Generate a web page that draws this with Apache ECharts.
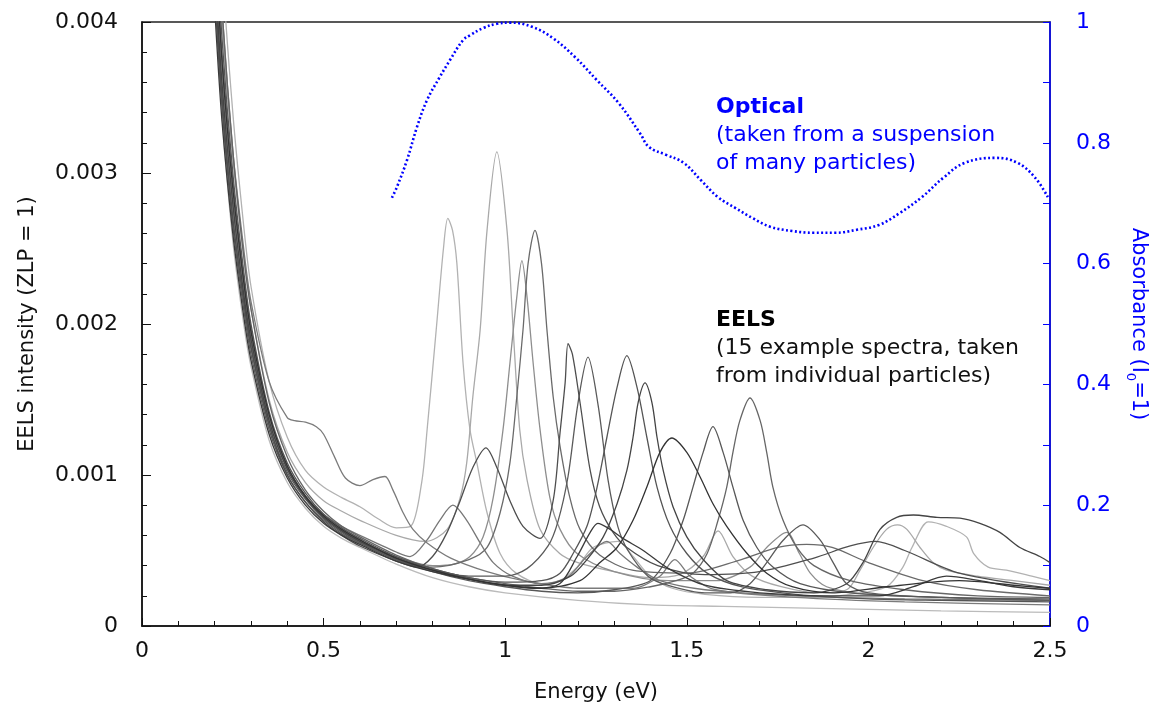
<!DOCTYPE html>
<html><head><meta charset="utf-8">
<script src="https://cdn.jsdelivr.net/npm/echarts@6/dist/echarts.min.js"></script>
<style>html,body{margin:0;padding:0;background:#fff}#c{width:1154px;height:713px}</style>
</head><body><div id="c"></div>
<script>
// Tick labels
const xTicks = [0, 0.5, 1, 1.5, 2, 2.5];
const xTickLabels = ['0', '0.5', '1', '1.5', '2', '2.5'];
const yLeftTickLabels = ['0', '0.001', '0.002', '0.003', '0.004'];
const yRightTickLabels = ['0', '0.2', '0.4', '0.6', '0.8', '1'];

// EELS spectra: [energy eV, intensity in units of 1e-3 (ZLP = 1)]
const eels01 = [[0.2,5.4],[0.22,4.4],[0.25,3.4],[0.28,2.65],[0.3,2.25],[0.35,1.62],[0.4,1.25],[0.45,1.03],[0.5,0.92],[0.55,0.85],[0.6,0.79],[0.65,0.71],[0.7,0.65],[0.74,0.66],[0.77,0.95],[0.785,1.3],[0.81,1.96],[0.83,2.5],[0.842,2.70],[0.855,2.62],[0.867,2.4],[0.884,1.74],[0.903,1.3],[0.922,1.08],[0.95,0.75],[0.986,0.48],[1.03,0.35],[1.1,0.28],[1.15,0.30],[1.198,0.39],[1.242,0.52],[1.31,0.56],[1.352,0.46],[1.399,0.33],[1.46,0.25],[1.55,0.21],[1.7,0.19],[1.85,0.19],[1.95,0.21],[2.05,0.26],[2.095,0.39],[2.12,0.52],[2.165,0.69],[2.215,0.66],[2.27,0.59],[2.29,0.48],[2.33,0.39],[2.38,0.37],[2.45,0.33],[2.5,0.30]];
const eels02 = [[0.2,4.9],[0.22,4.0],[0.25,3.1],[0.28,2.45],[0.3,2.1],[0.35,1.5],[0.4,1.15],[0.45,0.95],[0.5,0.83],[0.55,0.76],[0.6,0.70],[0.7,0.60],[0.78,0.56],[0.84,0.64],[0.876,0.85],[0.894,1.08],[0.911,1.52],[0.931,1.96],[0.95,2.62],[0.977,3.14],[1.005,2.62],[1.022,1.96],[1.04,1.3],[1.06,0.97],[1.096,0.64],[1.15,0.48],[1.2,0.42],[1.3,0.36],[1.4,0.32],[1.48,0.34],[1.545,0.46],[1.586,0.63],[1.627,0.46],[1.68,0.33],[1.76,0.26],[1.86,0.22],[1.94,0.24],[1.977,0.37],[2.013,0.52],[2.05,0.64],[2.08,0.67],[2.106,0.64],[2.142,0.52],[2.178,0.42],[2.215,0.37],[2.3,0.33],[2.4,0.3],[2.5,0.27]];
const eels03 = [[0.2,4.5],[0.22,3.7],[0.25,2.85],[0.28,2.25],[0.3,1.92],[0.35,1.38],[0.4,1.05],[0.45,0.86],[0.5,0.73],[0.55,0.64],[0.6,0.57],[0.7,0.46],[0.8,0.40],[0.86,0.41],[0.903,0.46],[0.939,0.59],[0.967,0.85],[0.994,1.30],[1.013,1.74],[1.032,2.18],[1.046,2.42],[1.06,2.18],[1.077,1.74],[1.096,1.30],[1.123,0.85],[1.151,0.64],[1.198,0.48],[1.3,0.36],[1.45,0.3],[1.58,0.3],[1.674,0.39],[1.72,0.52],[1.775,0.62],[1.81,0.48],[1.84,0.35],[1.885,0.26],[2.0,0.21],[2.2,0.19],[2.5,0.17]];
const eels04 = [[0.2,4.6],[0.22,3.8],[0.25,2.95],[0.28,2.3],[0.3,1.97],[0.35,1.4],[0.4,1.06],[0.45,0.86],[0.5,0.72],[0.55,0.63],[0.6,0.56],[0.7,0.45],[0.8,0.39],[0.9,0.44],[0.95,0.52],[0.986,0.75],[1.013,1.08],[1.032,1.52],[1.049,1.96],[1.063,2.4],[1.082,2.62],[1.1,2.4],[1.115,1.96],[1.132,1.52],[1.151,1.19],[1.178,0.85],[1.206,0.64],[1.26,0.47],[1.35,0.37],[1.5,0.35],[1.65,0.44],[1.75,0.52],[1.83,0.54],[1.9,0.52],[2.0,0.42],[2.15,0.3],[2.3,0.24],[2.5,0.2]];
const eels05 = [[0.2,4.3],[0.22,3.5],[0.25,2.7],[0.28,2.15],[0.3,1.85],[0.35,1.33],[0.4,1.0],[0.45,0.82],[0.5,0.69],[0.55,0.6],[0.6,0.53],[0.7,0.43],[0.757,0.39],[0.8,0.46],[0.84,0.62],[0.876,0.83],[0.911,1.05],[0.947,1.18],[0.977,1.05],[1.013,0.83],[1.049,0.66],[1.096,0.58],[1.132,0.83],[1.151,1.28],[1.165,1.61],[1.173,1.87],[1.185,1.80],[1.206,1.48],[1.234,1.03],[1.26,0.79],[1.297,0.62],[1.335,0.52],[1.42,0.4],[1.55,0.34],[1.7,0.36],[1.85,0.45],[1.95,0.53],[2.02,0.56],[2.1,0.5],[2.25,0.35],[2.5,0.25]];
const eels06 = [[0.2,4.2],[0.22,3.45],[0.25,2.65],[0.28,2.1],[0.3,1.8],[0.35,1.3],[0.4,1.0],[0.45,0.82],[0.5,0.7],[0.55,0.61],[0.6,0.55],[0.7,0.44],[0.8,0.37],[0.9,0.33],[1.0,0.33],[1.06,0.38],[1.118,0.53],[1.145,0.69],[1.173,0.99],[1.2,1.47],[1.228,1.78],[1.256,1.46],[1.283,0.97],[1.31,0.66],[1.338,0.5],[1.393,0.33],[1.448,0.27],[1.55,0.22],[1.62,0.22],[1.674,0.28],[1.72,0.42],[1.766,0.57],[1.82,0.67],[1.867,0.57],[1.903,0.42],[1.94,0.28],[2.0,0.22],[2.2,0.19],[2.5,0.17]];
const eels07 = [[0.2,4.8],[0.22,3.9],[0.25,3.0],[0.28,2.35],[0.3,2.0],[0.35,1.42],[0.4,1.08],[0.45,0.88],[0.5,0.74],[0.55,0.65],[0.6,0.58],[0.7,0.46],[0.8,0.38],[0.9,0.32],[1.0,0.29],[1.1,0.3],[1.151,0.35],[1.187,0.48],[1.225,0.66],[1.253,0.92],[1.28,1.25],[1.308,1.58],[1.335,1.79],[1.363,1.58],[1.39,1.25],[1.418,0.92],[1.454,0.66],[1.5,0.48],[1.556,0.35],[1.65,0.26],[1.8,0.21],[2.0,0.18],[2.2,0.17],[2.5,0.16]];
const eels08 = [[0.2,4.4],[0.22,3.6],[0.25,2.8],[0.28,2.2],[0.3,1.9],[0.35,1.36],[0.4,1.04],[0.45,0.85],[0.5,0.72],[0.55,0.63],[0.6,0.56],[0.7,0.45],[0.8,0.37],[0.9,0.31],[1.0,0.27],[1.1,0.27],[1.18,0.33],[1.225,0.44],[1.27,0.59],[1.308,0.81],[1.335,1.03],[1.352,1.25],[1.366,1.48],[1.385,1.61],[1.404,1.48],[1.418,1.25],[1.435,1.03],[1.462,0.79],[1.5,0.59],[1.545,0.44],[1.61,0.30],[1.72,0.24],[1.85,0.22],[1.94,0.28],[1.985,0.42],[2.032,0.64],[2.078,0.72],[2.124,0.735],[2.189,0.72],[2.252,0.715],[2.307,0.68],[2.362,0.62],[2.417,0.52],[2.472,0.46],[2.5,0.42]];
const eels09 = [[0.2,4.6],[0.22,3.75],[0.25,2.9],[0.28,2.28],[0.3,1.95],[0.35,1.4],[0.4,1.06],[0.45,0.86],[0.5,0.73],[0.55,0.64],[0.6,0.57],[0.7,0.45],[0.8,0.37],[0.9,0.31],[1.0,0.27],[1.1,0.25],[1.206,0.30],[1.261,0.42],[1.308,0.52],[1.352,0.70],[1.39,0.92],[1.426,1.15],[1.459,1.245],[1.5,1.15],[1.536,0.99],[1.572,0.81],[1.61,0.66],[1.666,0.48],[1.72,0.35],[1.79,0.26],[1.9,0.22],[2.05,0.26],[2.25,0.30],[2.4,0.27],[2.5,0.25]];
const eels10 = [[0.2,4.3],[0.22,3.5],[0.25,2.7],[0.28,2.15],[0.3,1.84],[0.35,1.33],[0.4,1.02],[0.45,0.84],[0.5,0.71],[0.55,0.62],[0.6,0.55],[0.7,0.44],[0.8,0.36],[0.9,0.3],[1.0,0.26],[1.1,0.23],[1.2,0.22],[1.3,0.24],[1.399,0.30],[1.454,0.48],[1.49,0.70],[1.517,0.92],[1.545,1.15],[1.572,1.32],[1.6,1.15],[1.627,0.92],[1.655,0.70],[1.693,0.52],[1.737,0.39],[1.812,0.28],[1.95,0.22],[2.2,0.19],[2.5,0.18]];
const eels11 = [[0.2,5.0],[0.22,4.1],[0.25,3.15],[0.28,2.45],[0.3,2.1],[0.35,1.48],[0.4,1.12],[0.45,0.9],[0.5,0.76],[0.55,0.66],[0.6,0.59],[0.7,0.47],[0.8,0.38],[0.9,0.32],[1.0,0.28],[1.1,0.25],[1.2,0.23],[1.3,0.23],[1.4,0.26],[1.47,0.3],[1.517,0.35],[1.556,0.48],[1.586,0.70],[1.61,0.92],[1.627,1.15],[1.646,1.36],[1.674,1.51],[1.702,1.36],[1.72,1.15],[1.737,0.92],[1.765,0.70],[1.803,0.52],[1.85,0.4],[1.95,0.3],[2.1,0.24],[2.3,0.2],[2.5,0.19]];
const eels12 = [[0.2,4.4],[0.22,3.6],[0.25,2.78],[0.28,2.2],[0.3,1.88],[0.35,1.36],[0.4,1.04],[0.45,0.86],[0.5,0.74],[0.55,0.66],[0.6,0.6],[0.7,0.49],[0.738,0.46],[0.785,0.57],[0.82,0.70],[0.856,0.80],[0.894,0.70],[0.931,0.55],[0.967,0.42],[1.02,0.33],[1.1,0.28],[1.17,0.32],[1.225,0.46],[1.28,0.56],[1.316,0.48],[1.363,0.39],[1.426,0.30],[1.55,0.24],[1.8,0.2],[2.1,0.18],[2.5,0.17]];
const eels13 = [[0.2,5.0],[0.22,4.1],[0.25,3.15],[0.28,2.5],[0.3,2.15],[0.35,1.62],[0.4,1.38],[0.42,1.36],[0.45,1.35],[0.48,1.32],[0.5,1.27],[0.53,1.12],[0.56,0.98],[0.6,0.93],[0.636,0.97],[0.669,0.99],[0.691,0.90],[0.719,0.75],[0.746,0.64],[0.785,0.55],[0.85,0.45],[0.95,0.36],[1.05,0.3],[1.2,0.25],[1.35,0.25],[1.426,0.33],[1.467,0.44],[1.509,0.33],[1.58,0.24],[1.8,0.19],[2.1,0.16],[2.5,0.14]];
const eels14 = [[0.2,4.1],[0.22,3.35],[0.25,2.6],[0.28,2.05],[0.3,1.76],[0.35,1.27],[0.4,0.98],[0.45,0.8],[0.5,0.68],[0.55,0.6],[0.6,0.54],[0.7,0.43],[0.8,0.36],[0.9,0.31],[1.0,0.27],[1.08,0.25],[1.15,0.28],[1.198,0.46],[1.234,0.62],[1.255,0.68],[1.289,0.64],[1.324,0.58],[1.38,0.5],[1.45,0.38],[1.55,0.27],[1.7,0.22],[1.9,0.2],[2.03,0.2],[2.124,0.26],[2.215,0.33],[2.307,0.3],[2.4,0.26],[2.5,0.24]];
const eels15 = [[0.2,4.3],[0.22,3.4],[0.25,2.55],[0.28,2.0],[0.3,1.72],[0.35,1.23],[0.4,0.95],[0.45,0.78],[0.5,0.66],[0.55,0.58],[0.6,0.52],[0.7,0.41],[0.8,0.32],[0.9,0.26],[1.0,0.22],[1.2,0.17],[1.4,0.14],[1.6,0.13],[1.8,0.12],[2.0,0.11],[2.2,0.1],[2.5,0.09]];

// Optical absorbance (right axis): [energy eV, absorbance]
const optical = [[0.688,0.709],[0.702,0.727],[0.730,0.772],[0.757,0.826],[0.785,0.871],[0.820,0.909],[0.848,0.937],[0.884,0.970],[0.903,0.978],[0.939,0.990],[0.977,0.997],[1.013,0.999],[1.074,0.992],[1.132,0.973],[1.192,0.942],[1.252,0.904],[1.312,0.866],[1.371,0.816],[1.396,0.793],[1.443,0.780],[1.491,0.767],[1.539,0.738],[1.586,0.710],[1.634,0.692],[1.682,0.675],[1.730,0.661],[1.790,0.654],[1.850,0.651],[1.908,0.651],[1.968,0.656],[2.029,0.664],[2.087,0.684],[2.147,0.710],[2.208,0.743],[2.266,0.767],[2.351,0.775],[2.410,0.767],[2.458,0.743],[2.494,0.710]];

const eelsSet = [eels15, eels01, eels02, eels03, eels12, eels13, eels04, eels11, eels06, eels07, eels10, eels05, eels08, eels14, eels09];
const eelsColors = ['#bbbbbb','#b2b2b2','#a9a9a9','#8e8e8e','#777777','#7b7b7b','#6a6a6a','#666666','#5a5a5a','#555555','#585858','#4e4e4e','#444444','#3a3a3a','#333333'];

const FONT = 'DejaVu Sans';
const chart = echarts.init(document.getElementById('c'), null, {renderer: 'canvas'});

const series = eelsSet.map((d, i) => ({
  type: 'line', xAxisIndex: 0, yAxisIndex: 0,
  data: d.map(p => [p[0], p[1] * 1e-3]),
  showSymbol: false, symbol: 'none', smooth: 0.3,
  lineStyle: {color: eelsColors[i], width: 1.3}, silent: true, clip: true, z: 3
}));
series.push({
  type: 'line', xAxisIndex: 0, yAxisIndex: 1, data: optical,
  showSymbol: false, symbol: 'none', smooth: 0.4,
  lineStyle: {color: '#0000ff', width: 2.6, type: [2, 2.4]}, silent: true, z: 4
});

chart.setOption({
  animation: false,
  backgroundColor: '#fff',
  grid: {left: 142, right: 104, top: 22, bottom: 87, containLabel: false, outerBoundsMode: 'none',
    show: true, borderColor: '#222', borderWidth: 1.5, backgroundColor: 'transparent'},
  xAxis: {
    type: 'value', min: 0, max: 2.5, interval: 0.5,
    name: 'Energy (eV)', nameLocation: 'middle', nameGap: 56,
    nameTextStyle: {fontFamily: FONT, fontSize: 21, color: '#111'},
    axisLine: {show: true, onZero: false, lineStyle: {color: '#111', width: 1.5}},
    axisTick: {show: true, inside: true, length: 8, lineStyle: {color: '#111'}},
    minorTick: {show: true, splitNumber: 5, length: 5, lineStyle: {color: '#111'}},
    splitLine: {show: false},
    axisLabel: {fontFamily: FONT, fontSize: 22, color: '#111', margin: 14,
      formatter: v => { const k = xTicks.findIndex(t => Math.abs(t - v) < 1e-9); return k >= 0 ? xTickLabels[k] : ''; }}
  },
  yAxis: [{
    type: 'value', min: 0, max: 0.004, interval: 0.001, position: 'left',
    name: 'EELS intensity (ZLP = 1)', nameLocation: 'middle', nameGap: 104, nameRotate: 90,
    nameTextStyle: {fontFamily: FONT, fontSize: 21, color: '#111'},
    axisLine: {show: true, onZero: false, lineStyle: {color: '#111', width: 1.5}},
    axisTick: {show: true, inside: true, length: 9, lineStyle: {color: '#111'}},
    minorTick: {show: true, splitNumber: 5, length: 5, lineStyle: {color: '#111'}},
    splitLine: {show: false},
    axisLabel: {fontFamily: FONT, fontSize: 22, color: '#111', margin: 24,
      formatter: v => yLeftTickLabels[Math.round(v * 1000)] || ''}
  }, {
    type: 'value', min: 0, max: 1, interval: 0.2, position: 'right',
    name: '{n|Absorbance (I}{s|0}{n|=1)}', nameLocation: 'middle', nameGap: 74, nameRotate: -90,
    nameTextStyle: {fontFamily: FONT, fontSize: 21, color: '#0000ff',
      rich: {n: {fontFamily: FONT, fontSize: 21, color: '#0000ff', lineHeight: 28},
             s: {fontFamily: FONT, fontSize: 13, color: '#0000ff', lineHeight: 28, verticalAlign: 'bottom'}}},
    axisLine: {show: true, onZero: false, lineStyle: {color: '#0000ff', width: 1.5}},
    axisTick: {show: true, inside: true, length: 7, lineStyle: {color: '#0000ff'}},
    minorTick: {show: true, splitNumber: 2, length: 7, lineStyle: {color: '#0000ff'}},
    splitLine: {show: false},
    axisLabel: {fontFamily: FONT, fontSize: 22, color: '#0000ff', margin: 26,
      formatter: v => yRightTickLabels[Math.round(v * 5)] || ''}
  }],
  graphic: [{
    type: 'text', left: 716, top: 96, silent: true,
    style: {text: '{b|Optical}\n{n|(taken from a suspension}\n{n|of many particles)}',
      rich: {b: {fontFamily: FONT, fontWeight: 'bold', fontSize: 22, fill: '#0000ff', lineHeight: 28},
             n: {fontFamily: FONT, fontSize: 22, fill: '#0000ff', lineHeight: 28}}}
  }, {
    type: 'text', left: 716, top: 309, silent: true,
    style: {text: '{b|EELS}\n{n|(15 example spectra, taken}\n{n|from individual particles)}',
      rich: {b: {fontFamily: FONT, fontWeight: 'bold', fontSize: 22, fill: '#000', lineHeight: 28},
             n: {fontFamily: FONT, fontSize: 22, fill: '#111', lineHeight: 28}}}
  }],
  series: series
});
</script></body></html>
